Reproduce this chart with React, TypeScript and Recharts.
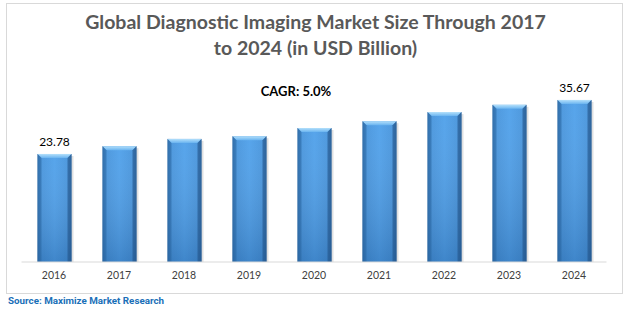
import React from 'react';
import { BarChart, Bar, XAxis, YAxis, LabelList } from 'recharts';

const years = ['2016', '2017', '2018', '2019', '2020', '2021', '2022', '2023', '2024'];
const marketSize = [23.78, 25.5, 27.1, 27.7, 29.5, 31.0, 33.0, 34.6, 35.67];
const labelledYears = ['2016', '2024'];
const titleLines = ['Global Diagnostic Imaging Market Size Through 2017', 'to 2024 (in USD Billion)'];
const cagrText = 'CAGR: 5.0%';
const sourceText = 'Source: Maximize Market Research';

const data = years.map((y, i) => ({
  year: y,
  value: marketSize[i],
  labelText: labelledYears.includes(y) ? marketSize[i].toFixed(2) : '',
}));

const BevelBar = (props: any) => {
  const { x, y, width, height } = props;
  if (!height || height <= 0) return null;
  const b = 4;
  return (
    <g>
      <defs>
        <linearGradient id="barH" x1="0" y1="0" x2="1" y2="0">
          <stop offset="0" stopColor="#2f6fae" />
          <stop offset="0.12" stopColor="#4694dc" />
          <stop offset="0.5" stopColor="#4ea0ea" />
          <stop offset="0.88" stopColor="#4694dc" />
          <stop offset="1" stopColor="#2f6fae" />
        </linearGradient>
        <linearGradient id="barV" x1="0" y1="0" x2="0" y2="1">
          <stop offset="0" stopColor="#ffffff" stopOpacity="0.05" />
          <stop offset="1" stopColor="#0a2a5a" stopOpacity="0.22" />
        </linearGradient>
        <linearGradient id="barTop" x1="0" y1="0" x2="0" y2="1">
          <stop offset="0" stopColor="#b4e0fb" />
          <stop offset="1" stopColor="#6ab4f0" />
        </linearGradient>
      </defs>
      <rect x={x + 2} y={y + 2} width={width} height={height - 2} fill="#000" opacity={0.12} />
      <rect x={x} y={y} width={width} height={height} fill="url(#barH)" />
      <rect x={x} y={y} width={width} height={height} fill="url(#barV)" />
      <polygon
        points={`${x},${y} ${x + width},${y} ${x + width - b},${y + b} ${x + b},${y + b}`}
        fill="url(#barTop)"
      />
      <polygon
        points={`${x},${y} ${x + b},${y + b} ${x + b},${y + height} ${x},${y + height}`}
        fill="#2c69a6"
        opacity={0.55}
      />
      <polygon
        points={`${x + width},${y} ${x + width - b},${y + b} ${x + width - b},${y + height} ${x + width},${y + height}`}
        fill="#24578c"
        opacity={0.6}
      />
    </g>
  );
};

export default function App() {
  return (
    <div
      style={{
        position: 'absolute',
        left: 0,
        top: 0,
        width: 631,
        height: 316,
        background: '#ffffff',
        overflow: 'hidden',
      }}
    >
      <div
        style={{
          position: 'absolute',
          left: 6,
          top: 3,
          width: 617,
          height: 291,
          border: '1px solid #d9d9d9',
          boxSizing: 'border-box',
        }}
      />
      <div
        style={{
          position: 'absolute',
          left: 0,
          top: 9,
          width: 631,
          textAlign: 'center',
          fontFamily: 'Lato, sans-serif',
          fontWeight: 700,
          fontSize: 19.5,
          lineHeight: '26px',
          color: '#595959',
        }}
      >
        {titleLines.map((t) => (
          <div key={t}>{t}</div>
        ))}
      </div>
      <div
        style={{
          position: 'absolute',
          left: 196,
          top: 83,
          width: 200,
          textAlign: 'center',
          fontFamily: 'Lato, sans-serif',
          fontWeight: 700,
          fontSize: 13,
          color: '#000000',
        }}
      >
        {cagrText}
      </div>
      <div style={{ position: 'absolute', left: 0, top: 0 }}>
        <BarChart
          width={631}
          height={316}
          data={data}
          margin={{ top: 80.3, right: 24.5, bottom: 24, left: 21.5 }}
          barSize={34}
        >
          <XAxis
            dataKey="year"
            axisLine={{ stroke: '#d9d9d9', strokeWidth: 1 }}
            tickLine={false}
            tickSize={0}
            tickMargin={10}
            height={30}
            interval={0}
            tick={{ fill: '#404040', fontSize: 10.5, fontFamily: 'Lato, sans-serif' }}
          />
          <YAxis hide domain={[0, 40]} />
          <Bar dataKey="value" shape={BevelBar} isAnimationActive={false}>
            <LabelList
              dataKey="labelText"
              position="top"
              offset={8}
              fill="#000000"
              fontSize={12}
              fontFamily="Lato, sans-serif"
            />
          </Bar>
        </BarChart>
      </div>
      <div
        style={{
          position: 'absolute',
          left: 8,
          top: 295,
          fontFamily: 'Roboto, sans-serif',
          fontWeight: 700,
          fontSize: 9.8,
          color: '#1b70b8',
          whiteSpace: 'nowrap',
        }}
      >
        {sourceText}
      </div>
    </div>
  );
}
